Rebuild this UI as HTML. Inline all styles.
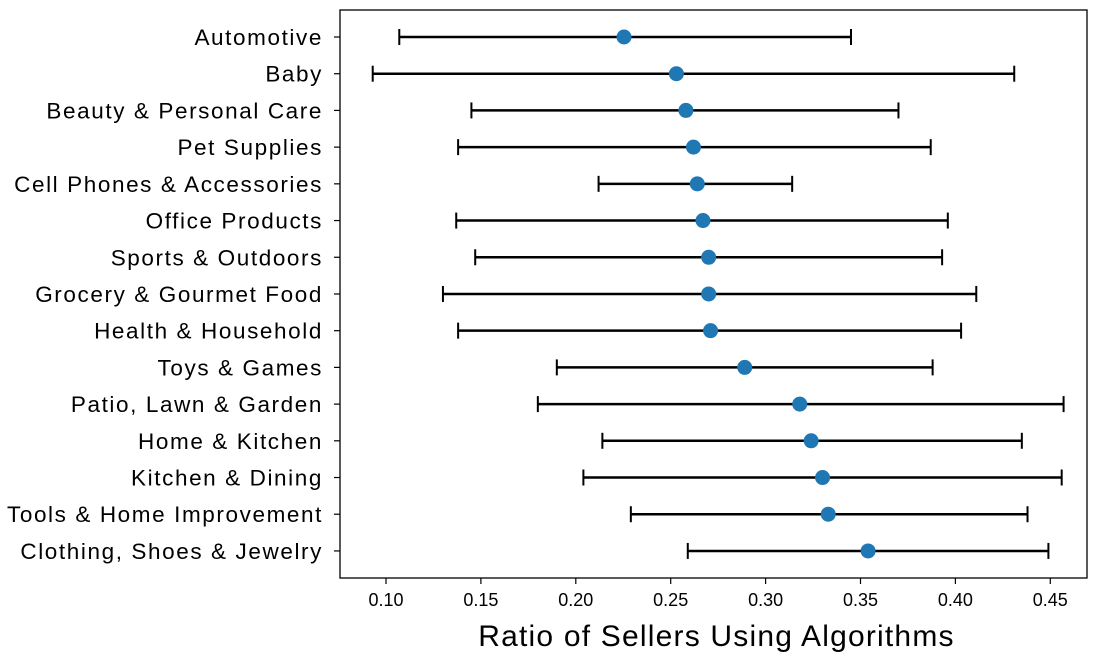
<!DOCTYPE html>
<html><head><meta charset="utf-8"><style>
body{margin:0;background:#fff;}
svg{display:block;font-family:"Liberation Sans",sans-serif;}
</style></head><body>
<svg id="chart" width="1104" height="657"></svg>
<script>
const categories=["Automotive","Baby","Beauty & Personal Care","Pet Supplies","Cell Phones & Accessories","Office Products","Sports & Outdoors","Grocery & Gourmet Food","Health & Household","Toys & Games","Patio, Lawn & Garden","Home & Kitchen","Kitchen & Dining","Tools & Home Improvement","Clothing, Shoes & Jewelry"];
const means=[0.2254,0.253,0.258,0.262,0.264,0.267,0.270,0.270,0.271,0.289,0.318,0.324,0.330,0.333,0.354];
const lows=[0.107,0.093,0.145,0.138,0.212,0.137,0.147,0.130,0.138,0.190,0.180,0.214,0.204,0.229,0.259];
const highs=[0.345,0.431,0.370,0.387,0.314,0.396,0.393,0.411,0.403,0.388,0.457,0.435,0.456,0.438,0.449];
const xTicks=[0.10,0.15,0.20,0.25,0.30,0.35,0.40,0.45];
const xLabel="Ratio of Sellers Using Algorithms";

const NS="http://www.w3.org/2000/svg";
const svg=document.getElementById('chart');
const L=340,R=1087,T=10,B=578;
const x=v=>386+(v-0.10)/0.05*94.9;
const y=i=>37+i*36.71;
function mk(t,a,p){const e=document.createElementNS(NS,t);for(const k in a)e.setAttribute(k,a[k]);(p||svg).appendChild(e);return e;}
const frame=mk('rect',{x:L,y:T,width:R-L,height:B-T,fill:'none',stroke:'#000','stroke-width':1.3});


xTicks.forEach(v=>{
  const t=mk('line',{x1:x(v),x2:x(v),y1:B,y2:B+6,stroke:'#000','stroke-width':1.2});
  
  
  const l=mk('text',{x:x(v),y:B+28,'text-anchor':'middle','font-size':18,fill:'#000'});
  l.textContent=v.toFixed(2);
  
  
});
categories.forEach((c,i)=>{
  const yy=y(i);
  const t=mk('line',{x1:L-6,x2:L,y1:yy,y2:yy,stroke:'#000','stroke-width':1.2});
  
  
  const l=mk('text',{x:L-17,y:yy+8,'text-anchor':'end','font-size':22.5,'letter-spacing':'1.6',fill:'#000'});
  l.textContent=c;
  
  
  const g=mk('g',{});
  
  
  mk('line',{x1:x(lows[i]),x2:x(highs[i]),y1:yy,y2:yy,stroke:'#000','stroke-width':2.5},g);
  mk('line',{x1:x(lows[i]),x2:x(lows[i]),y1:yy-8,y2:yy+8,stroke:'#000','stroke-width':2},g);
  mk('line',{x1:x(highs[i]),x2:x(highs[i]),y1:yy-8,y2:yy+8,stroke:'#000','stroke-width':2},g);
  const p=mk('circle',{cx:x(means[i]),cy:yy,r:7.5,fill:'#1f77b4'});
  
  
});
const xl=mk('text',{x:(L+R)/2+3,y:646,'text-anchor':'middle','font-size':30,'letter-spacing':'1.2',fill:'#000'});
xl.textContent=xLabel;


</script>
</body></html>
